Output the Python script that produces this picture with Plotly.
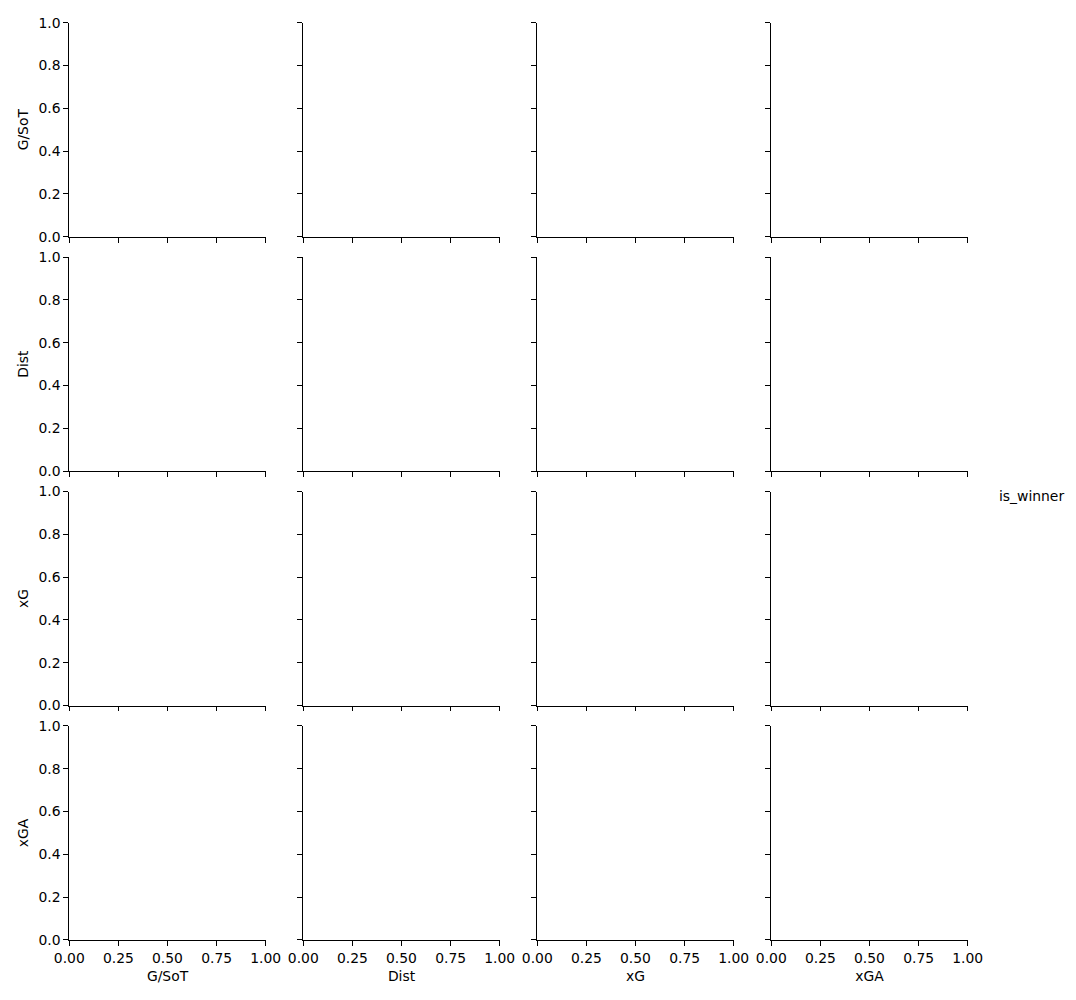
import plotly.graph_objects as go

# ---- data ----
variables = ["G/SoT", "Dist", "xG", "xGA"]
x_tick_vals = [0.0, 0.25, 0.5, 0.75, 1.0]
x_tick_text = ["0.00", "0.25", "0.50", "0.75", "1.00"]
y_tick_vals = [0.0, 0.2, 0.4, 0.6, 0.8, 1.0]
y_tick_text = ["0.0", "0.2", "0.4", "0.6", "0.8", "1.0"]
legend_title = "is_winner"

# ---- layout geometry (pixels) ----
W, H = 1076, 1000
col_left = [69.3, 303.3, 537.3, 771.3]
ax_w = 196.4
row_top = [22.7, 257.1, 491.5, 725.9]
ax_h = 214.0

FONT = "DejaVu Sans"
FS = 13.9

fig = go.Figure()
layout = dict(
    width=W, height=H,
    margin=dict(l=0, r=0, t=0, b=0, autoexpand=False),
    paper_bgcolor="white", plot_bgcolor="white",
    showlegend=False,
    font=dict(family=FONT, size=FS, color="black"),
)

n = len(variables)
for r in range(n):
    for c in range(n):
        idx = r * n + c + 1
        xname = "xaxis" if idx == 1 else f"xaxis{idx}"
        yname = "yaxis" if idx == 1 else f"yaxis{idx}"
        xref = "x" if idx == 1 else f"x{idx}"
        yref = "y" if idx == 1 else f"y{idx}"
        fig.add_trace(go.Scatter(x=[], y=[], xaxis=xref, yaxis=yref,
                                 mode="markers", hoverinfo="skip"))
        x0 = col_left[c] / W
        x1 = (col_left[c] + ax_w) / W
        y1 = 1 - row_top[r] / H
        y0 = 1 - (row_top[r] + ax_h) / H
        bottom = (r == n - 1)
        left = (c == 0)
        layout[xname] = dict(
            domain=[x0, x1], anchor=yref, range=[0, 1],
            automargin=False,
            showgrid=False, zeroline=False,
            showline=True, linecolor="black", linewidth=1.1,
            ticks="outside", ticklen=4.9, tickwidth=1.1, tickcolor="black",
            tickvals=x_tick_vals, ticktext=x_tick_text,
            showticklabels=bottom,
            tickfont=dict(family=FONT, size=FS, color="black"),
            title=dict(text=variables[c] if bottom else "",
                       font=dict(family=FONT, size=FS, color="black"),
                       standoff=6),
            fixedrange=True,
        )
        layout[yname] = dict(
            domain=[y0, y1], anchor=xref, range=[0, 1],
            automargin=False,
            showgrid=False, zeroline=False,
            showline=True, linecolor="black", linewidth=1.1,
            ticks="outside", ticklen=4.9, tickwidth=1.1, tickcolor="black",
            tickvals=y_tick_vals, ticktext=y_tick_text,
            showticklabels=left,
            tickfont=dict(family=FONT, size=FS, color="black"),
            title=dict(text=variables[r] if left else "",
                       font=dict(family=FONT, size=FS, color="black"),
                       standoff=6),
            fixedrange=True,
        )

layout["annotations"] = [dict(
    text=legend_title, xref="paper", yref="paper",
    x=997 / W, y=1 - 496 / H, xanchor="left", yanchor="middle",
    showarrow=False, font=dict(family=FONT, size=FS, color="black"),
)]

fig.update_layout(**layout)
fig.write_html("out.html")
